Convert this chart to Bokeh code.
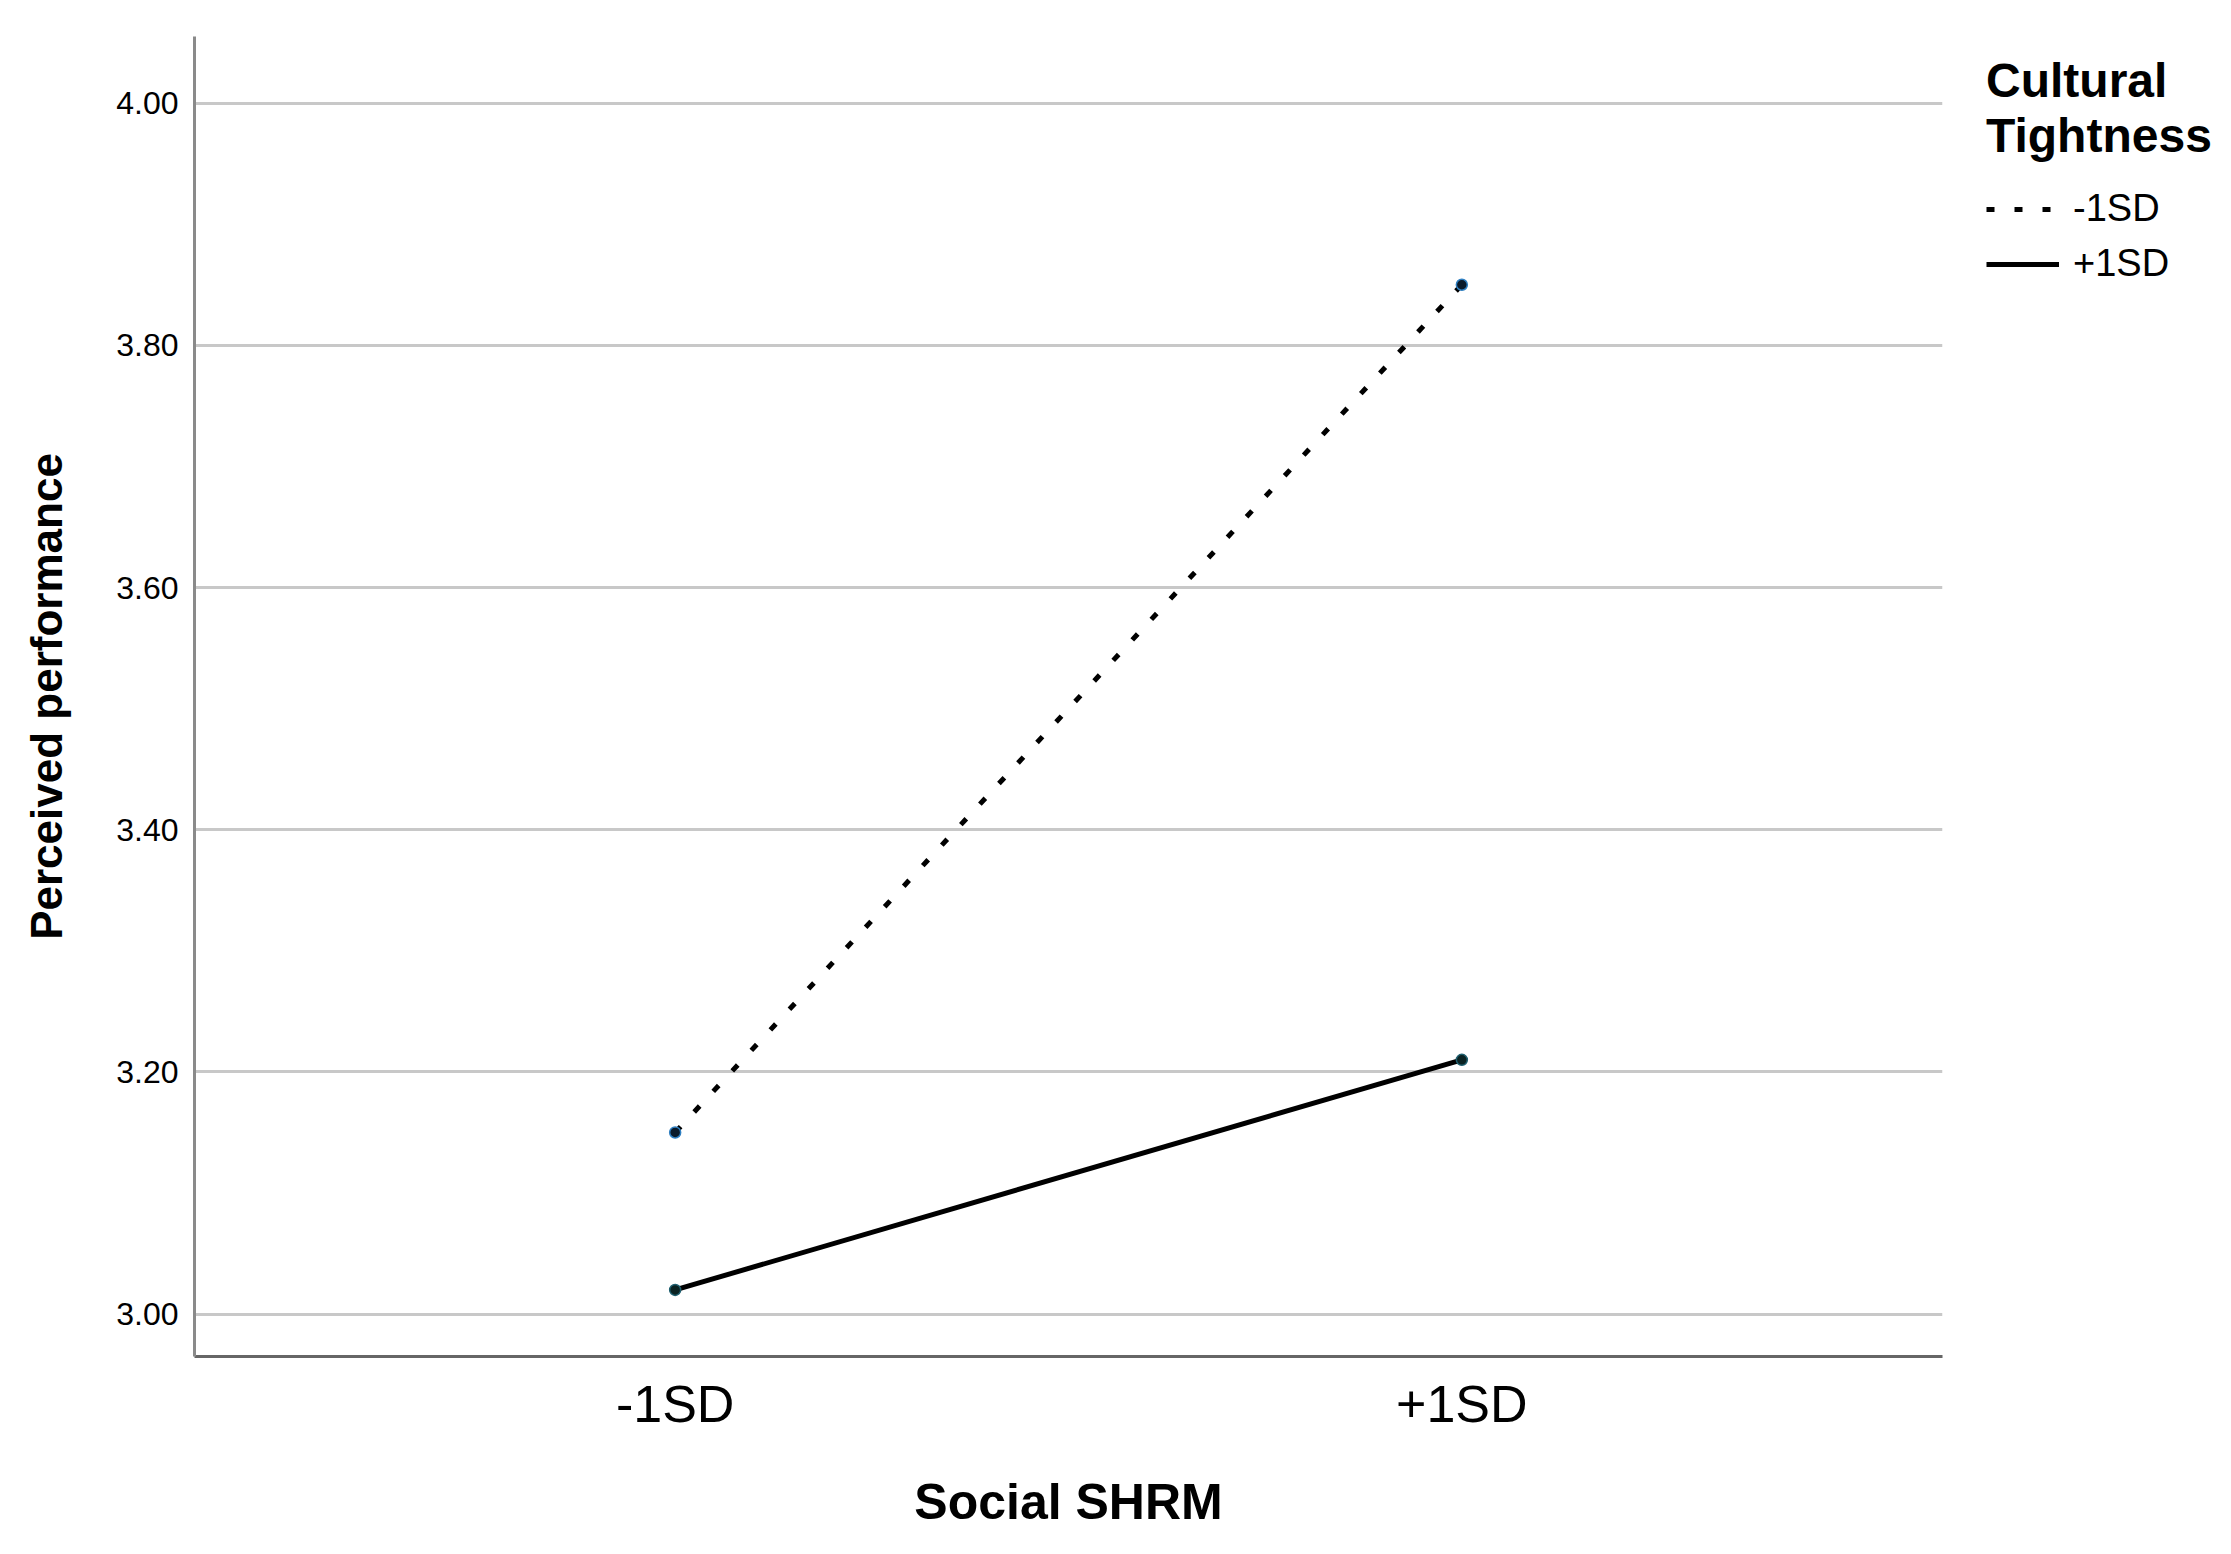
from bokeh.plotting import figure
from bokeh.layouts import row
from bokeh.models import (FactorRange, Range1d, FixedTicker, NumeralTickFormatter,
                          Legend, LegendItem)
from bokeh.embed import file_html
from bokeh.resources import INLINE

# ---- data ----
x_categories = ["-1SD", "+1SD"]
low_tightness = [3.15, 3.85]    # Cultural Tightness -1SD (dotted)
high_tightness = [3.02, 3.21]   # Cultural Tightness +1SD (solid)
y_ticks = [3.00, 3.20, 3.40, 3.60, 3.80, 4.00]
series_labels = ["-1SD", "+1SD"]
legend_title = "Cultural\nTightness"
x_title = "Social SHRM"
y_title = "Perceived performance"

FONT = "Liberation Sans"
DOTTED = dict(line_color="black", line_width=5, line_dash="8 20")
SOLID = dict(line_color="black", line_width=5)

p = figure(width=1950, height=1546, output_backend="svg", toolbar_location=None,
           x_range=FactorRange(*x_categories, range_padding=0.111,
                               range_padding_units="absolute"),
           y_range=Range1d(2.965, 4.055),
           min_border_left=194, min_border_right=8,
           min_border_top=36, min_border_bottom=190)
p.outline_line_color = None
p.background_fill_color = "white"
p.border_fill_color = "white"

# grid
p.xgrid.grid_line_color = None
p.ygrid.grid_line_color = "#c8c8c8"
p.ygrid.grid_line_width = 3

# y axis
p.yaxis.ticker = FixedTicker(ticks=y_ticks)
p.yaxis.formatter = NumeralTickFormatter(format="0.00")
p.yaxis.axis_line_color = "#8a8a8a"
p.yaxis.axis_line_width = 3
p.yaxis.major_tick_line_color = None
p.yaxis.minor_tick_line_color = None
p.yaxis.major_tick_in = 0
p.yaxis.major_tick_out = 0
p.yaxis.major_label_text_font = FONT
p.yaxis.major_label_text_font_size = "32px"
p.yaxis.major_label_text_color = "black"
p.yaxis.major_label_standoff = 16
p.yaxis.axis_label = y_title
p.yaxis.axis_label_text_font = FONT
p.yaxis.axis_label_text_font_size = "44px"
p.yaxis.axis_label_text_font_style = "bold"
p.yaxis.axis_label_text_color = "black"
p.yaxis.axis_label_standoff = 42

# x axis
p.xaxis.axis_line_color = "#666666"
p.xaxis.axis_line_width = 3
p.xaxis.major_tick_line_color = None
p.xaxis.minor_tick_line_color = None
p.xaxis.major_tick_in = 0
p.xaxis.major_tick_out = 0
p.xaxis.major_label_text_font = FONT
p.xaxis.major_label_text_font_size = "52px"
p.xaxis.major_label_text_color = "black"
p.xaxis.major_label_standoff = 18
p.xaxis.axis_label = x_title
p.xaxis.axis_label_text_font = FONT
p.xaxis.axis_label_text_font_size = "50px"
p.xaxis.axis_label_text_font_style = "bold"
p.xaxis.axis_label_text_color = "black"
p.xaxis.axis_label_standoff = 38

# lines
p.line(x_categories, low_tightness, **DOTTED)
p.line(x_categories, high_tightness, **SOLID)

# markers
p.scatter(x_categories, low_tightness, size=11, fill_color="#0a1a2a",
          line_color="#2f7fc1", line_width=1.5)
p.scatter(x_categories, high_tightness, size=11, fill_color="#0a2222",
          line_color="#1f5f6f", line_width=1.5)

# ---- legend panel (separate narrow figure to the right) ----
lg = figure(width=273, height=1546, output_backend="svg", toolbar_location=None,
            x_range=Range1d(0, 1), y_range=Range1d(0, 1),
            x_axis_location=None, y_axis_location=None,
            min_border=0, min_border_left=0, min_border_right=0,
            min_border_top=0, min_border_bottom=0)
lg.outline_line_color = None
lg.xgrid.grid_line_color = None
lg.ygrid.grid_line_color = None
# legend-only sample renderers (kept outside the visible range)
lg_dotted = lg.line([-10], [-10], **DOTTED)
lg_solid = lg.line([-10], [-10], **SOLID)

legend = Legend(items=[LegendItem(label=series_labels[0], renderers=[lg_dotted]),
                       LegendItem(label=series_labels[1], renderers=[lg_solid])],
                location=(36, 1071), orientation="vertical",
                title=legend_title, title_text_font=FONT,
                title_text_font_size="48px", title_text_font_style="bold",
                title_text_color="black", title_text_line_height=0.76,
                title_standoff=24,
                glyph_width=73, glyph_height=40, label_height=40,
                spacing=12, label_standoff=14, padding=0, margin=0,
                border_line_color=None, background_fill_alpha=0,
                label_text_font=FONT, label_text_font_size="38px",
                label_text_color="black")
lg.add_layout(legend)

layout = row(p, lg, spacing=0)
open("out.html", "w").write(file_html(layout, INLINE))
